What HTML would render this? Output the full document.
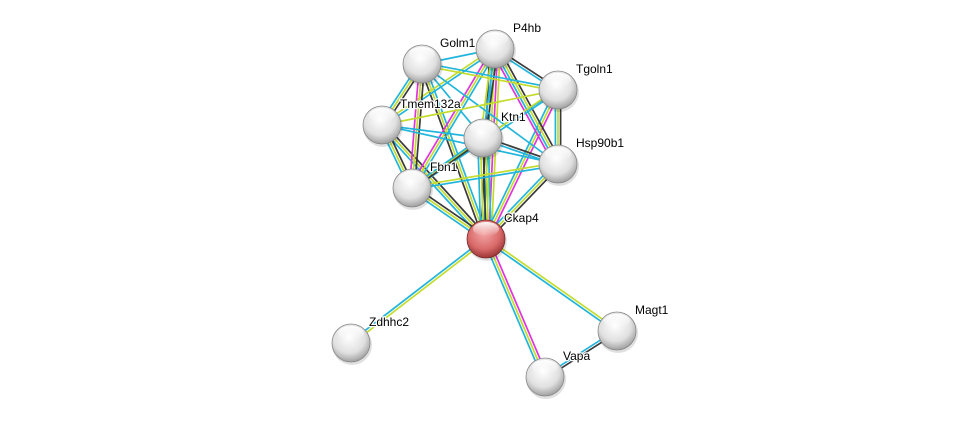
<!DOCTYPE html>
<html><head><meta charset="utf-8"><style>
html,body{margin:0;padding:0;background:#fff;width:975px;height:422px;overflow:hidden}
svg text{font-family:"Liberation Sans",sans-serif;font-size:12px;fill:#000;stroke:#fff;stroke-width:2.5px;paint-order:stroke;stroke-linejoin:round}
</style></head><body>
<svg id="s" width="975" height="422" xmlns="http://www.w3.org/2000/svg">
<defs>
<radialGradient id="g" cx="0.45" cy="0.35" r="0.7">
<stop offset="0" stop-color="#ffffff"/><stop offset="0.6" stop-color="#e0e0e0"/><stop offset="1" stop-color="#939393"/></radialGradient>
<radialGradient id="r" cx="0.45" cy="0.35" r="0.7">
<stop offset="0" stop-color="#f4a6a6"/><stop offset="0.6" stop-color="#d96a6a"/><stop offset="1" stop-color="#8e2b2b"/></radialGradient>
<linearGradient id="hl" x1="0" y1="0" x2="0" y2="1"><stop offset="0" stop-color="#fff" stop-opacity="0.95"/><stop offset="1" stop-color="#fff" stop-opacity="0"/></linearGradient>
</defs>
<g id="edges"></g><g id="nodes"></g>
</svg>
<script>
var N={P4hb:[495,49],Golm1:[422,64],Tgoln1:[558,90],Tmem132a:[382,125],Ktn1:[483,138],Hsp90b1:[558,164],Fbn1:[412,188],Ckap4:[486,239],Zdhhc2:[351,343],Magt1:[617,331],Vapa:[545,377]};
var C={c:"#22b5dc",y:"#c3dc2e",k:"#3a3a3a",m:"#e033e0"};
var E=[
["Ckap4","P4hb","kcymy"],["Ckap4","Golm1","kyc"],["Ckap4","Tgoln1","cym"],["Ckap4","Tmem132a","cyk"],["Ckap4","Ktn1","cykyc"],["Ckap4","Hsp90b1","cyk"],["Ckap4","Fbn1","cyk"],
["Ckap4","Zdhhc2","yc"],["Ckap4","Magt1","yc"],["Ckap4","Vapa","myc"],["Vapa","Magt1","ck"],
["P4hb","Golm1","c"],["P4hb","Tgoln1","kc"],["P4hb","Tmem132a","cy"],["P4hb","Ktn1","kcy"],["P4hb","Hsp90b1","kycm"],["P4hb","Fbn1","cym"],
["Golm1","Tgoln1","cy"],["Golm1","Tmem132a","kyc"],["Golm1","Ktn1","c"],["Golm1","Hsp90b1","c"],["Golm1","Fbn1","kym"],
["Tgoln1","Tmem132a","y"],["Tgoln1","Ktn1","c"],["Tgoln1","Hsp90b1","kyc"],["Tgoln1","Fbn1","cy"],
["Tmem132a","Ktn1","c"],["Tmem132a","Hsp90b1","c"],["Tmem132a","Fbn1","kyc"],
["Ktn1","Hsp90b1","kc"],["Ktn1","Fbn1","kc"],["Hsp90b1","Fbn1","cy"]];
var ns="http://www.w3.org/2000/svg",eg=document.getElementById("edges"),ng=document.getElementById("nodes");
E.forEach(function(e){var a=N[e[0]],b=N[e[1]],dx=b[0]-a[0],dy=b[1]-a[1],L=Math.hypot(dx,dy),px=-dy/L,py=dx/L,n=e[2].length;
for(var i=0;i<n;i++){var o=(i-(n-1)/2)*2.6;var l=document.createElementNS(ns,"line");
l.setAttribute("x1",a[0]+px*o);l.setAttribute("y1",a[1]+py*o);l.setAttribute("x2",b[0]+px*o);l.setAttribute("y2",b[1]+py*o);
l.setAttribute("stroke",C[e[2][i]]);l.setAttribute("stroke-width","1.7");eg.appendChild(l);}});
for(var k in N){var p=N[k],red=k=="Ckap4";
var sh=document.createElementNS(ns,"circle");sh.setAttribute("cx",p[0]+1);sh.setAttribute("cy",p[1]+2);sh.setAttribute("r",20);sh.setAttribute("fill","#000");sh.setAttribute("opacity","0.12");ng.appendChild(sh);
var c=document.createElementNS(ns,"circle");c.setAttribute("cx",p[0]);c.setAttribute("cy",p[1]);c.setAttribute("r",19);c.setAttribute("fill",red?"url(#r)":"url(#g)");c.setAttribute("stroke",red?"#7a2a2a":"#888");c.setAttribute("stroke-width","0.8");ng.appendChild(c);
var h=document.createElementNS(ns,"ellipse");h.setAttribute("cx",p[0]);h.setAttribute("cy",p[1]-10);h.setAttribute("rx",13);h.setAttribute("ry",7);h.setAttribute("fill","url(#hl)");ng.appendChild(h);
var t=document.createElementNS(ns,"text");t.setAttribute("x",p[0]+18);t.setAttribute("y",p[1]-17);t.textContent=k;ng.appendChild(t);}
</script>
</body></html>
